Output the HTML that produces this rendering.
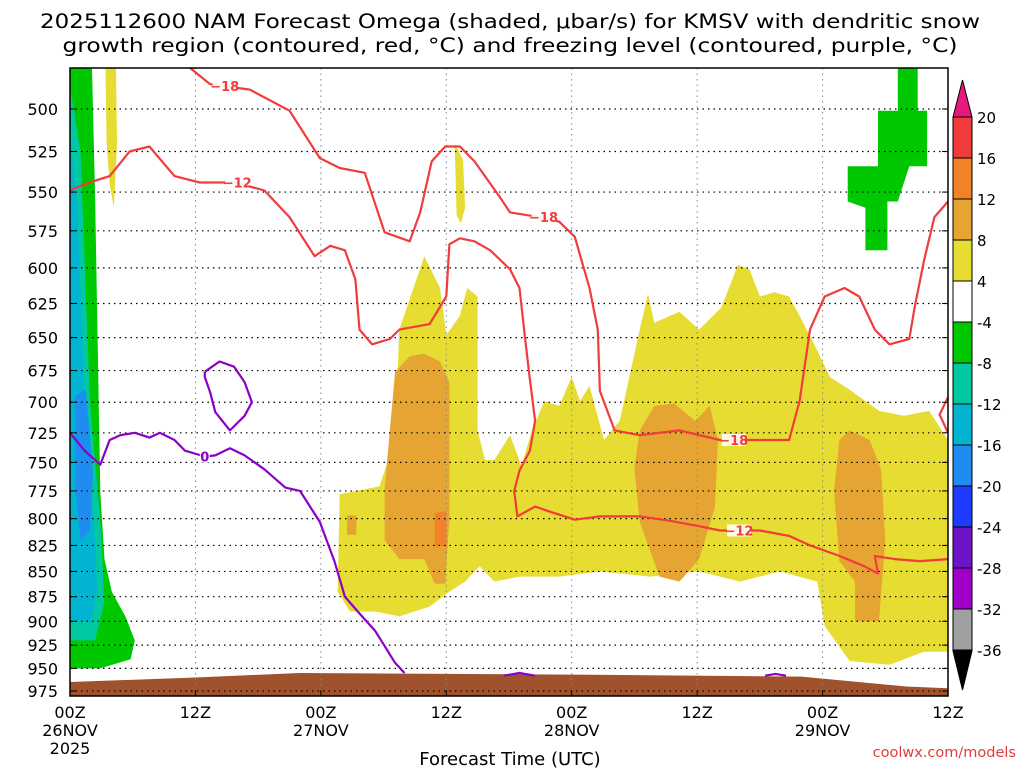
<!DOCTYPE html>
<html><head><meta charset="utf-8"><style>
html,body{margin:0;padding:0;background:#fff;}
svg{display:block;font-family:"DejaVu Sans","Liberation Sans",sans-serif;}
</style></head><body>
<svg id="chart" width="1024" height="768" viewBox="0 0 1024 768" xmlns="http://www.w3.org/2000/svg">
<g id="title">
<text x="510" y="28" text-anchor="middle" font-size="19.5" fill="#000" textLength="940" lengthAdjust="spacingAndGlyphs">2025112600 NAM Forecast Omega (shaded, μbar/s) for KMSV with dendritic snow</text>
<text x="510" y="52" text-anchor="middle" font-size="19.5" fill="#000" textLength="895" lengthAdjust="spacingAndGlyphs">growth region (contoured, red, °C) and freezing level (contoured, purple, °C)</text>
</g>
<g id="fills"></g><g id="grid"></g><g id="lines"></g><g id="axes"></g><g id="cbar"></g>
<text x="510" y="765" text-anchor="middle" font-size="18">Forecast Time (UTC)</text>
<text x="1016" y="757" text-anchor="end" font-size="14.5" fill="#e03c3c">coolwx.com/models</text>
</svg>
<script>
const pTicks=[500,525,550,575,600,625,650,675,700,725,750,775,800,825,850,875,900,925,950,975];
const xTickHours=[0,12,24,36,48,60,72,84];
const xTickTop=["00Z","12Z","00Z","12Z","00Z","12Z","00Z","12Z"];
const xTickMid=["26NOV","","27NOV","","28NOV","","29NOV",""];
const cbarLabels=[20,16,12,8,4,-4,-8,-12,-16,-20,-24,-28,-32,-36];
const cbarColors=["#f03c3c","#f08228","#e6a532","#e6dc32","#ffffff","#00c800","#00c8a0","#00b4d2","#1e8cf0","#1e3cff","#6e14c8","#a000c8","#a0a0a0"];
const yellowMain=[[25.8,778],[29.6,771],[31.1,731],[31.5,644],[33.9,592],[35.4,614],[36,648],[37.3,634],[38,614],[39,620],[39,723],[39.7,748],[40.6,748],[42.1,727],[43.2,753],[44.2,723],[45.4,699],[46.8,703],[48,680],[48.8,699],[49.7,687],[51.1,731],[52.6,715],[54.5,644],[55.3,618],[55.9,639],[58.3,631],[60.2,644],[62.3,628],[63.9,598],[65,601],[66,620],[67.4,617],[68.8,620],[69.8,634],[71.2,655],[72.7,680],[74.6,690],[77.4,707],[79.8,711],[82.2,707],[84,731],[84,932],[81.7,932],[78.4,946],[74.6,942],[72.2,905],[71.5,860],[67.9,850],[64.1,860],[60.2,850],[55.5,855],[50.7,850],[46.8,855],[43,855],[40.6,860],[39.2,845],[37.8,860],[36.3,870],[34.4,885],[31.5,895],[29.2,890],[26.8,890],[25.6,870]];
const yellowStrip1=[[3.4,477],[4.4,477],[4.5,520],[4.2,560],[3.8,545],[3.5,520]];
const yellowStrip2=[[36.8,520],[37.6,530],[37.8,560],[37.4,570],[37,565]];
const orangeA=[[30.1,773],[31.1,676],[32.5,664],[33.9,662],[35.4,668],[36.3,684],[36.3,801],[35.9,862],[34.9,862],[33.9,838],[31.5,838],[30.1,820]];
const orangeA2=[[26.5,797],[27.4,797],[27.4,815],[26.5,815]];
const orangeB=[[54.5,723],[55.9,703],[57.8,701],[59.8,715],[61.2,703],[62,731],[61.7,790],[60.2,838],[58.3,860],[56.4,855],[54.5,803],[54,755]];
const orangeC=[[73.6,731],[74.6,723],[76.5,731],[77.6,756],[78,820],[77.4,900],[75.1,900],[75.1,860],[73.6,840],[73.1,775]];
const redSpot=[[34.9,795],[36,793],[36,826],[34.9,826]];
const greenLeft=[[0,477],[2.1,477],[2.4,553],[2.9,776],[3.3,838],[4,870],[5.3,895],[6.2,920],[5.8,940],[2.9,950],[0,950]];
const tealLeft=[[0,487],[1,525],[1.9,699],[2.9,803],[3.3,880],[2.4,920],[0,920]];
const cyanLeft=[[0,512],[0.7,560],[1.5,720],[2.4,820],[2.6,870],[2,900],[0,900]];
const blueLeft=[[0.5,695],[1.5,690],[2.2,760],[1.9,810],[1,820],[0.5,770]];
const greenRight=[[79.2,477],[81.1,477],[81.1,501],[82,501],[82,534],[80.3,534],[79.2,556],[78.2,556],[78.2,588],[76.1,588],[76.1,560],[74.4,556],[74.4,534],[77.3,534],[77.3,501],[79.2,501]];
const ground=[[0,965],[12,960],[22,955],[50,957],[70,959],[80,970],[84,972],[84,985],[0,985]];
const red18=[[11.5,477],[13.4,486],[17.2,489],[21,501],[23.9,529],[25.8,535],[28.2,538],[30.1,576],[32.5,582],[33.5,563],[34.6,531],[35.9,522],[37.3,522],[38.7,531],[41.1,553],[42.1,563],[44.9,566],[46.8,569],[48.3,579],[49.7,614],[50.5,644],[50.7,691],[52.1,723],[54.5,727],[58.3,723],[62.2,731],[66,731],[68.8,731],[69.8,699],[70.8,644],[72.2,620],[74.1,614],[75.5,620],[77,644],[78.4,655],[80.3,651],[80.8,628],[81.7,595],[82.7,566],[84,556]];
const red12=[[0,549],[1.4,545],[3.8,540],[5.7,525],[7.6,522],[10,540],[12.4,544],[15.8,544],[18.6,549],[21,566],[23.4,592],[24.9,585],[26.3,588],[27.3,608],[27.7,644],[28.9,655],[30.6,651],[31.5,644],[34.4,640],[36,620],[36.3,584],[37.3,580],[38.7,582],[40.2,588],[42.1,601],[43,614],[43.5,648],[44,682],[44.5,715],[44,740],[43,757],[42.5,775],[42.8,798],[44.5,789],[45.7,793],[48.3,801],[50.7,798],[54.5,798],[57.4,802],[60.2,807],[62.2,811],[66,811],[68.8,816],[70.8,825],[73.6,835],[76,845],[77.3,852],[77,835],[78.9,838],[81.3,840],[84,838]];
const redEdge=[[84,696],[83.2,710],[84,725]];
const purple0=[[0,725],[1.4,740],[2.9,752],[3.8,731],[4.8,727],[6.2,725],[7.6,729],[8.6,725],[10,731],[11,740],[12.9,745],[13.9,744],[15.3,738],[16.7,744],[18.6,756],[20.6,772],[22,775],[23.9,803],[25.3,840],[26.3,875],[27.7,892],[29.2,910],[31.1,944],[32,955]];
const purpleLoop=[[12.9,676],[14.3,668],[15.7,672],[16.7,684],[17.4,700],[16.7,711],[15.3,723],[13.9,708],[13.4,692],[12.9,680],[12.9,676]];
const purpleBit1=[[41.5,958],[43,955],[44.5,958]];
const purpleBit2=[[66.5,958],[67.5,956],[68.5,958]];
const labels=[["−18",14.8,487,"#f03c3c"],["−12",16,544,"#f03c3c"],["−18",45.3,566,"#f03c3c"],["−18",63.5,731,"#f03c3c"],["−12",64,811,"#f03c3c"],["0",12.9,745,"#8c00c8"]];

const L=70,R=948,T=68,B=696;
const X=h=>L+(R-L)*h/84;
const Y=p=>109+(Math.log(p)-Math.log(500))*871.5;
const NS="http://www.w3.org/2000/svg";
function mk(par,tag,attrs){const e=document.createElementNS(NS,tag);for(const k in attrs)e.setAttribute(k,attrs[k]);document.getElementById(par).appendChild(e);return e;}
function pts(a){return a.map(d=>X(d[0]).toFixed(1)+","+Math.max(T,Math.min(B,Y(d[1]))).toFixed(1)).join(" ");}
const fillList=[[greenLeft,"#00c800","green-region-left"],[tealLeft,"#00c8a0","teal-region-left"],[cyanLeft,"#00b4d2","cyan-region-left"],[blueLeft,"#1e8cf0","blue-region-left"],[greenRight,"#00c800","green-region-right"],[yellowMain,"#e6dc32","yellow-region-main"],[yellowStrip1,"#e6dc32","yellow-strip-1"],[yellowStrip2,"#e6dc32","yellow-strip-2"],[orangeA,"#e6a532","orange-region-a"],[orangeA2,"#e6a532","orange-region-a2"],[orangeB,"#e6a532","orange-region-b"],[orangeC,"#e6a532","orange-region-c"],[redSpot,"#f08228","orange-red-spot"],[ground,"#a0522d","ground-terrain"]];
fillList.forEach(f=>{const e=mk("fills","polygon",{points:pts(f[0]),fill:f[1]});

});
pTicks.forEach((p,i)=>{const y=Y(p);
const g=mk("grid","line",{x1:L,x2:R,y1:y,y2:y,stroke:"#000","stroke-width":1.2,"stroke-dasharray":"1.5,4"});


const t=mk("axes","text",{x:58,y:y+6,"text-anchor":"end","font-size":16});t.textContent=p;


mk("axes","line",{x1:L,x2:L+6,y1:y,y2:y,stroke:"#000"});mk("axes","line",{x1:R-6,x2:R,y1:y,y2:y,stroke:"#000"});});
xTickHours.forEach((h,i)=>{const x=X(h);
if(i>0&&i<xTickHours.length-1){const g=mk("grid","line",{x1:x,x2:x,y1:T,y2:B,stroke:"#888","stroke-width":1,"stroke-dasharray":"1.5,4"});

}
mk("axes","line",{x1:x,x2:x,y1:B-6,y2:B,stroke:"#000"});
const t=mk("axes","text",{x:x,y:718,"text-anchor":"middle","font-size":16});t.textContent=xTickTop[i];


if(xTickMid[i]){const t2=mk("axes","text",{x:x,y:736,"text-anchor":"middle","font-size":16});t2.textContent=xTickMid[i];

}});
const yr=mk("axes","text",{x:X(0),y:754,"text-anchor":"middle","font-size":16});yr.textContent="2025";


const fr=mk("axes","rect",{x:L,y:T,width:R-L,height:B-T,fill:"none",stroke:"#000","stroke-width":1.5});


[[red18,"#f03c3c","dgz-minus18-contour"],[red12,"#f03c3c","dgz-minus12-contour"],[redEdge,"#f03c3c","dgz-edge-contour"],[purple0,"#8c00c8","freezing-level-contour"],[purpleLoop,"#8c00c8","freezing-loop-contour"],[purpleBit1,"#8c00c8","freezing-bit-1"],[purpleBit2,"#8c00c8","freezing-bit-2"]].forEach(c=>{
const e=mk("lines","polyline",{points:pts(c[0]),fill:"none",stroke:c[1],"stroke-width":2.2,"stroke-linejoin":"round"});

});
labels.forEach((l,i)=>{const x=X(l[1]),y=Y(l[2]);
const w=l[0].length>1?24:10;
mk("lines","rect",{x:x-w/2,y:y-6,width:w,height:12,fill:"#fff","fill-opacity":0.9});
const t=mk("lines","text",{x:x,y:y+5,"text-anchor":"middle","font-size":13,"font-weight":"bold",fill:l[3]});t.textContent=l[0];

});
const cy=v=>{const i=cbarLabels.indexOf(v);return 117+i*41;};
const cx=953,cw=19;
const tt=mk("cbar","polygon",{points:`${cx},117 ${cx+cw},117 ${cx+cw/2},80`,fill:"#e6197d",stroke:"#000"});


cbarColors.forEach((c,i)=>{const r=mk("cbar","rect",{x:cx,y:cy(cbarLabels[i]),width:cw,height:cy(cbarLabels[i+1])-cy(cbarLabels[i]),fill:c,stroke:"#000","stroke-width":1});

});
const bt=mk("cbar","polygon",{points:`${cx},651 ${cx+cw},651 ${cx+cw/2},690`,fill:"#000",stroke:"#000"});


cbarLabels.forEach(v=>{const t=mk("cbar","text",{x:977,y:cy(v)+6,"font-size":15});t.textContent=v;

});
</script>
</body></html>
